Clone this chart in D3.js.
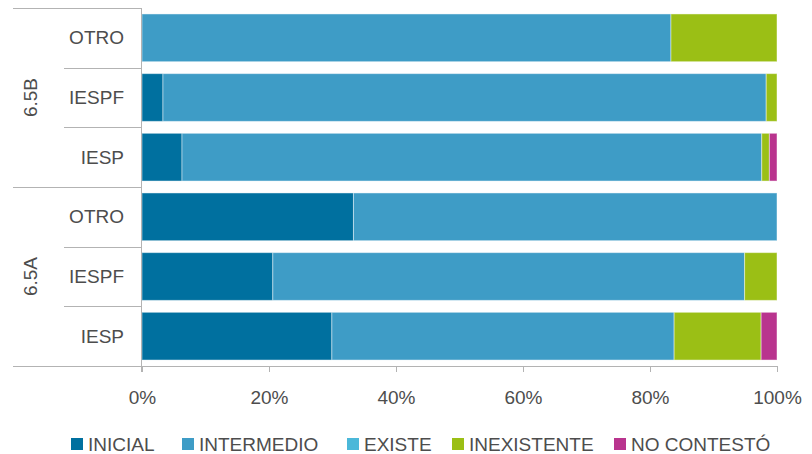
<!DOCTYPE html>
<html><head><meta charset="utf-8">
<script src="https://cdn.jsdelivr.net/npm/d3@7"></script>
<style>body{margin:0;background:#fff}svg{display:block}</style>
</head><body><svg id="c" width="812" height="454"></svg>
<script>
const groups = ["6.5B", "6.5A"];
const rowLabels = ["OTRO", "IESPF", "IESP"];
const series = ["INICIAL", "INTERMEDIO", "EXISTE", "INEXISTENTE", "NO CONTESTÓ"];
const colors = ["#00709f", "#3e9cc6", "#4bb8d9", "#9bbf15", "#b9348e"];
// values per row (top to bottom): 6.5B OTRO, IESPF, IESP, 6.5A OTRO, IESPF, IESP
const inicial     = [0,    3.3,  6.3,  33.3, 20.6, 29.9];
const intermedio  = [83.3, 95.0, 91.3, 66.7, 74.3, 53.9];
const existe      = [0,    0,    0,    0,    0,    0];
const inexistente = [16.7, 1.7,  1.2,  0,    5.1,  13.7];
const noContesto  = [0,    0,    1.2,  0,    0,    2.5];
const ticks = [0, 20, 40, 60, 80, 100];

const rows = [];
groups.forEach(g => rowLabels.forEach(l => rows.push({group: g, label: l, key: g + "|" + l})));
const vals = [inicial, intermedio, existe, inexistente, noContesto];
rows.forEach((r, i) => { series.forEach((s, j) => r[s] = vals[j][i]); });

const svg = d3.select("#c");
const font = "'Liberation Sans', Arial, sans-serif";
const x = d3.scaleLinear().domain([0, 100]).range([142, 777]);
const y = d3.scaleBand().domain(rows.map(r => r.key)).range([8, 366]).paddingInner(0.2).paddingOuter(0.1);
const step = y.step();
const yTop = y.range()[0];

const stack = d3.stack().keys(series)(rows);
svg.append("g").selectAll("g").data(stack).join("g")
  .attr("fill", (d, i) => colors[i])
  .selectAll("rect").data(d => d).join("rect")
  .attr("x", d => x(d[0])).attr("width", d => Math.max(0, x(d[1]) - x(d[0])))
  .attr("y", d => y(d.data.key)).attr("height", y.bandwidth())
  .attr("stroke", "rgba(255,255,255,0.45)").attr("stroke-width", 1)
  .filter(d => d[1] - d[0] <= 0).remove();

const lineCol = "#b3b3b3";
// x axis
const xAxis = d3.axisBottom(x).tickValues(ticks).tickFormat(d => d + "%").tickSize(6).tickSizeOuter(0);
const xg = svg.append("g").attr("transform", "translate(0,366)").call(xAxis);
xg.select(".domain").attr("stroke", lineCol);
xg.selectAll(".tick line").attr("stroke", lineCol);
xg.selectAll("text").attr("fill", "#4d4d4d").attr("font-family", font).attr("font-size", 19).attr("dy", "1.55em");
xg.select(".domain").attr("d", "M13,0.5H777");

// vertical axis line
svg.append("line").attr("x1", 141.5).attr("x2", 141.5).attr("y1", yTop).attr("y2", 372)
  .attr("stroke", lineCol);

// separators between rows
const bounds = d3.range(rows.length + 1);
svg.append("g").selectAll("line").data(bounds).join("line")
  .attr("x1", i => (i % rowLabels.length === 0) ? 13 : 64).attr("x2", 141)
  .attr("y1", i => Math.round(yTop + i * step) + 0.5).attr("y2", i => Math.round(yTop + i * step) + 0.5)
  .attr("stroke", lineCol);

// row labels
svg.append("g").selectAll("text").data(rows).join("text")
  .attr("x", 124).attr("y", d => y(d.key) + y.bandwidth() / 2)
  .attr("text-anchor", "end").attr("dominant-baseline", "central")
  .attr("font-family", font).attr("font-size", 19).attr("fill", "#4d4d4d")
  .text(d => d.label);

// group labels
svg.append("g").selectAll("text").data(groups).join("text")
  .attr("transform", (g, i) => `translate(30,${yTop + (i + 0.5) * rowLabels.length * step}) rotate(-90)`)
  .attr("text-anchor", "middle").attr("dominant-baseline", "central")
  .attr("font-family", font).attr("font-size", 19).attr("fill", "#4d4d4d")
  .text(d => d);

// legend
const legX = [71, 182, 347, 452, 614];
const lg = svg.append("g").selectAll("g").data(series).join("g")
  .attr("transform", (d, i) => `translate(${legX[i]},438)`);
lg.append("rect").attr("width", 12).attr("height", 12).attr("fill", (d, i) => colors[i]);
lg.append("text").attr("x", 17).attr("y", 6).attr("dominant-baseline", "central")
  .attr("font-family", font).attr("font-size", 19).attr("fill", "#4d4d4d").text(d => d);
</script></body></html>
